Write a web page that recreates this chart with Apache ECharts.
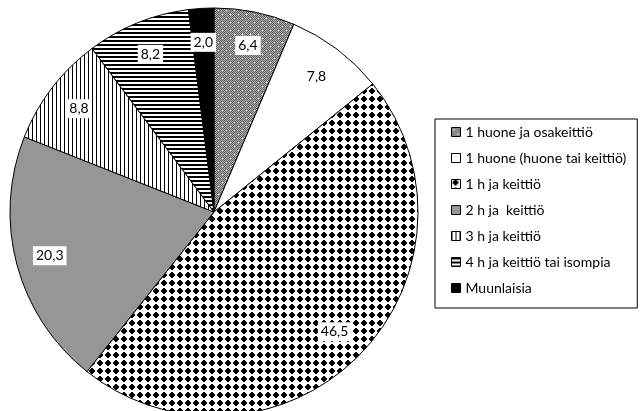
<!DOCTYPE html>
<html>
<head>
<meta charset="utf-8">
<script src="https://cdn.jsdelivr.net/npm/echarts@6/dist/echarts.min.js"></script>
<style>
  html, body { margin: 0; padding: 0; background: #fff; }
  #chart { width: 643px; height: 411px; }
</style>
</head>
<body>
<div id="chart"></div>
<script>
const categories = [
  '1 huone ja osakeittiö',
  '1 huone (huone tai keittiö)',
  '1 h ja keittiö',
  '2 h ja  keittiö',
  '3 h ja keittiö',
  '4 h ja keittiö tai isompia',
  'Muunlaisia',
];
const values = [6.4, 7.8, 46.5, 20.3, 8.8, 8.2, 2.0];

// small canvas tiles used as fill patterns
function makeTile(size, draw) {
  const c = document.createElement('canvas');
  c.width = size;
  c.height = size;
  const ctx = c.getContext('2d');
  draw(ctx);
  return { image: c, repeat: 'repeat' };
}

const grayDots = makeTile(8, ctx => {
  for (let y = 0; y < 8; y++) {
    for (let x = 0; x < 8; x++) {
      ctx.fillStyle = (x + y) % 2 === 0 ? '#5a5a5a' : '#b4b4b4';
      ctx.fillRect(x, y, 1, 1);
    }
  }
  ctx.fillStyle = '#fff';
  ctx.fillRect(2, 2, 1, 1);
  ctx.fillRect(6, 6, 1, 1);
});

const blackDiamonds = makeTile(8, ctx => {
  ctx.fillStyle = '#fff';
  ctx.fillRect(0, 0, 8, 8);
  ctx.fillStyle = '#000';
  ctx.fillRect(3, 0, 2, 1);
  ctx.fillRect(2, 1, 4, 1);
  ctx.fillRect(1, 2, 6, 2);
  ctx.fillRect(2, 4, 4, 1);
  ctx.fillRect(3, 5, 2, 1);
});

const vStripes = makeTile(4, ctx => {
  ctx.fillStyle = '#fff';
  ctx.fillRect(0, 0, 4, 4);
  ctx.fillStyle = '#000';
  ctx.fillRect(0, 0, 1, 4);
});

const hStripes = makeTile(4, ctx => {
  ctx.fillStyle = '#fff';
  ctx.fillRect(0, 0, 4, 4);
  ctx.fillStyle = '#000';
  ctx.fillRect(0, 0, 4, 2);
});

const fills = [grayDots, '#ffffff', blackDiamonds, '#969696', vStripes, hStripes, '#000000'];

const chart = echarts.init(document.getElementById('chart'), null, { renderer: 'canvas' });

const pieData = categories.map((name, i) => ({
  name,
  value: values[i],
  itemStyle: { color: fills[i] },
}));

chart.setOption({
  animation: false,
  backgroundColor: '#fff',
  textStyle: { fontFamily: 'Lato' },
  legend: {
    orient: 'vertical',
    left: 435,
    top: 119,
    padding: [6, 11, 13, 16],
    itemGap: 12,
    itemWidth: 9,
    itemHeight: 9,
    icon: 'rect',
    borderColor: '#000',
    borderWidth: 1,
    borderRadius: 0,
    itemStyle: { borderColor: '#000', borderWidth: 1 },
    textStyle: { fontFamily: 'Lato', fontSize: 14, color: '#000', padding: [0, 0, 0, 0] },
    data: categories,
  },
  series: [
    {
      type: 'pie',
      center: [214, 212],
      radius: [0, 204],
      startAngle: 90,
      clockwise: true,
      silent: true,
      itemStyle: { borderColor: '#000', borderWidth: 1 },
      label: { show: false },
      labelLine: { show: false },
      data: pieData,
    },
    {
      // transparent ring only used to place the value labels
      type: 'pie',
      center: [214, 212],
      radius: [130, 204],
      startAngle: 90,
      clockwise: true,
      silent: true,
      legendHoverLink: false,
      itemStyle: { color: 'rgba(0,0,0,0)', borderWidth: 0 },
      label: {
        show: true,
        position: 'inside',
        fontFamily: 'Lato',
        fontSize: 14,
        color: '#000',
        backgroundColor: '#fff',
        padding: [3, 3, 2, 3],
        formatter: p => p.value.toFixed(1).replace('.', ','),
      },
      labelLine: { show: false },
      data: categories.map((name, i) => ({ name, value: values[i] })),
    },
  ],
});
</script>
</body>
</html>
